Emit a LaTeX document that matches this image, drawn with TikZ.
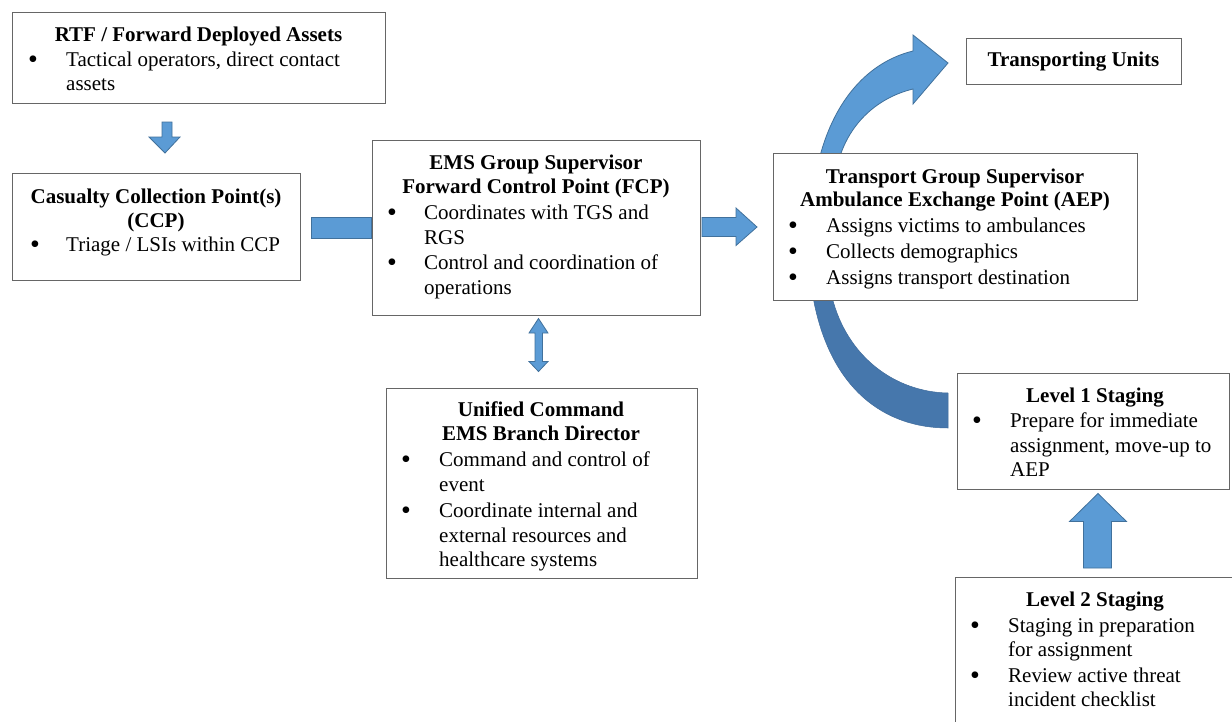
\documentclass[tikz,border=0pt]{standalone}
\usepackage{fontspec}
\setmainfont{Liberation Serif}
\definecolor{arrowblue}{HTML}{5B9BD5}
\definecolor{arrowedge}{HTML}{41719C}
\definecolor{arrowdark}{HTML}{4677AC}
\begin{document}
\begin{tikzpicture}[x=1pt,y=-1pt,
  box/.style={draw=black!60, line width=1.3pt, fill=white, rectangle, inner sep=0pt, anchor=north west},
  ttl/.style={font=\fontsize{21}{25}\selectfont\bfseries, anchor=base, inner sep=0pt},
  txt/.style={font=\fontsize{21}{25}\selectfont, anchor=base west, inner sep=0pt},
  bul/.style={font=\fontsize{28}{25}\selectfont, anchor=base, inner sep=0pt, yshift=-2pt},
  blk/.style={fill=arrowblue, draw=arrowedge, line width=0.8pt, line join=miter},
  blkdark/.style={fill=arrowdark, draw=arrowdark!90!black, line width=0.5pt}]
\useasboundingbox[fill=white] (0,0) rectangle (1232,721);

% curved arrows (behind boxes)
\path[blk] (820,156) .. controls (835,100) and (868,62) .. (913,51)
  -- (913,35) -- (948,63) -- (913,104) -- (913,89)
  .. controls (880,97) and (852,120) .. (840,156) -- cycle;
\path[blkdark] (813,297) .. controls (830,390) and (885,428) .. (948,428)
  -- (948,393) .. controls (895,392) and (847,357) .. (832,297) -- cycle;

% straight block arrows
\path[blk] (162,122) -- (172,122) -- (172,137) -- (180,137) -- (165,153) -- (149,137) -- (162,137) -- cycle;
\path[blk] (311.5,217) rectangle (371.5,238);
\path[blk] (702,217.5) -- (736,217.5) -- (736,208) -- (757,227) -- (736,245.5) -- (736,236.5) -- (702,236.5) -- cycle;
\path[blk] (538.5,318.5) -- (548,333) -- (542.5,333) -- (542.5,361.5) -- (548,361.5) -- (538.5,371.5)
  -- (529,361.5) -- (535,361.5) -- (535,333) -- (529,333) -- cycle;
\path[blk] (1098,493.5) -- (1126.5,521.5) -- (1111.5,521.5) -- (1111.5,568) -- (1083.5,568) -- (1083.5,521.5) -- (1069.5,521.5) -- cycle;

% RTF
\node[box, minimum width=373pt, minimum height=91pt] (rtf) at (12,12) {};
\node[ttl] (rtf-t) at (198.5,41) {RTF / Forward Deployed Assets};
\node[bul] (rtf-b1) at (33,66) {\textbullet};
\node[txt] (rtf-l1) at (66,66) {Tactical operators, direct contact};
\node[txt] (rtf-l2) at (66,90) {assets};

% CCP
\node[box, minimum width=288pt, minimum height=107pt] (ccp) at (12,173) {};
\node[ttl] (ccp-t1) at (156,203) {Casualty Collection Point(s)};
\node[ttl] (ccp-t2) at (156,227) {(CCP)};
\node[bul] (ccp-b1) at (35,251) {\textbullet};
\node[txt] (ccp-l1) at (66,251) {Triage / LSIs within CCP};

% FCP
\node[box, minimum width=328pt, minimum height=175pt] (fcp) at (372,140) {};
\node[ttl] (fcp-t1) at (536,169) {EMS Group Supervisor};
\node[ttl] (fcp-t2) at (536,193) {Forward Control Point (FCP)};
\node[bul] (fcp-b1) at (392,219) {\textbullet};
\node[txt] (fcp-l1) at (424,219) {Coordinates with TGS and};
\node[txt] (fcp-l2) at (424,244) {RGS};
\node[bul] (fcp-b2) at (392,269) {\textbullet};
\node[txt] (fcp-l3) at (424,269) {Control and coordination of};
\node[txt] (fcp-l4) at (424,294) {operations};

% Unified Command
\node[box, minimum width=311pt, minimum height=190pt] (uc) at (386,388) {};
\node[ttl] (uc-t1) at (541,416) {Unified Command};
\node[ttl] (uc-t2) at (541,440) {EMS Branch Director};
\node[bul] (uc-b1) at (406,466) {\textbullet};
\node[txt] (uc-l1) at (439,466) {Command and control of};
\node[txt] (uc-l2) at (439,491) {event};
\node[bul] (uc-b2) at (406,517) {\textbullet};
\node[txt] (uc-l3) at (439,517) {Coordinate internal and};
\node[txt] (uc-l4) at (439,542) {external resources and};
\node[txt] (uc-l5) at (439,566) {healthcare systems};

% TGS
\node[box, minimum width=364pt, minimum height=147pt] (tgs) at (773,153) {};
\node[ttl] (tgs-t1) at (955,183) {Transport Group Supervisor};
\node[ttl] (tgs-t2) at (955,206) {Ambulance Exchange Point (AEP)};
\node[bul] (tgs-b1) at (793,232) {\textbullet};
\node[txt] (tgs-l1) at (826,232) {Assigns victims to ambulances};
\node[bul] (tgs-b2) at (793,258) {\textbullet};
\node[txt] (tgs-l2) at (826,258) {Collects demographics};
\node[bul] (tgs-b3) at (793,284) {\textbullet};
\node[txt] (tgs-l3) at (826,284) {Assigns transport destination};

% Transporting Units
\node[box, minimum width=215pt, minimum height=46pt] (tu) at (966,38) {};
\node[ttl] (tu-t) at (1073.5,66) {Transporting Units};

% Level 1
\node[box, minimum width=272pt, minimum height=116pt] (l1) at (957,373) {};
\node[ttl] (l1-t) at (1095,402) {Level 1 Staging};
\node[bul] (l1-b1) at (977,427) {\textbullet};
\node[txt] (l1-l1) at (1010,427) {Prepare for immediate};
\node[txt] (l1-l2) at (1010,452) {assignment, move-up to};
\node[txt] (l1-l3) at (1010,476) {AEP};

% Level 2
\node[box, minimum width=290pt, minimum height=160pt] (l2) at (955,577) {};
\node[ttl] (l2-t) at (1095,606) {Level 2 Staging};
\node[bul] (l2-b1) at (975,632) {\textbullet};
\node[txt] (l2-l1) at (1008,632) {Staging in preparation};
\node[txt] (l2-l2) at (1008,656) {for assignment};
\node[bul] (l2-b2) at (975,682) {\textbullet};
\node[txt] (l2-l3) at (1008,682) {Review active threat};
\node[txt] (l2-l4) at (1008,706) {incident checklist};
\end{tikzpicture}
\end{document}
